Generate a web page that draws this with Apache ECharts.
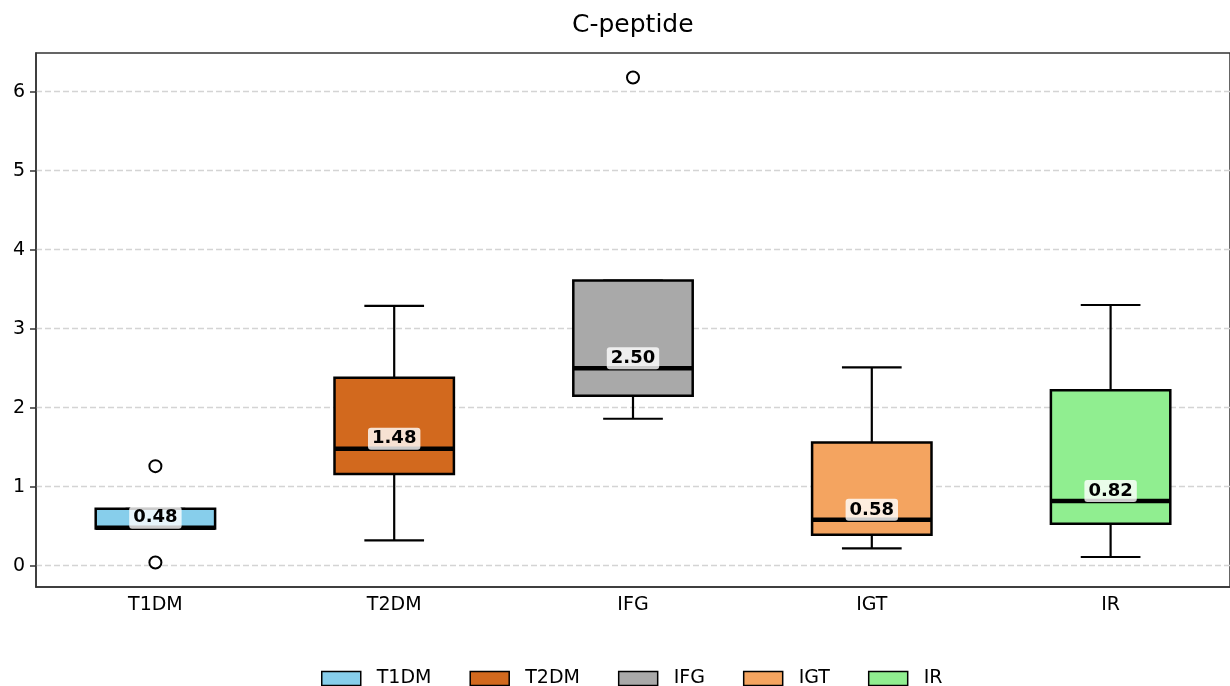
<!DOCTYPE html>
<html><head><meta charset="utf-8">
<script src="https://cdn.jsdelivr.net/npm/echarts@6/dist/echarts.min.js"></script>
<style>html,body{margin:0;padding:0;background:#fff}#c{width:1230px;height:686px}</style>
</head><body><div id="c"></div>
<script>
const categories = ['T1DM', 'T2DM', 'IFG', 'IGT', 'IR'];
const colors = ['#87CEEB', '#D2691E', '#A9A9A9', '#F4A460', '#90EE90'];
const whiskerLow = [0.47, 0.32, 1.86, 0.22, 0.11];
const q1 = [0.47, 1.16, 2.15, 0.39, 0.53];
const medians = [0.48, 1.48, 2.50, 0.58, 0.82];
const q3 = [0.72, 2.38, 3.61, 1.56, 2.22];
const whiskerHigh = [0.72, 3.29, 3.61, 2.51, 3.30];
const outlierCat = [0, 0, 2];
const outlierVal = [1.26, 0.04, 6.18];
const yTicks = [0, 1, 2, 3, 4, 5, 6];

const FONT = '"DejaVu Sans", sans-serif';

function makeRender(i) {
  return function (params, api) {
    const x = api.value(0);
    const pLow = api.coord([x, api.value(1)]);
    const pQ1 = api.coord([x, api.value(2)]);
    const pMed = api.coord([x, api.value(3)]);
    const pQ3 = api.coord([x, api.value(4)]);
    const pHigh = api.coord([x, api.value(5)]);
    const bw = api.size([1, 0])[0] * 0.5;
    const cx = pMed[0];
    const capW = bw * 0.5;
    const ls = { stroke: '#000', lineWidth: 2.2 };
    return {
      type: 'group',
      children: [
        { type: 'line', shape: { x1: cx, y1: pQ3[1], x2: cx, y2: pHigh[1] }, style: ls },
        { type: 'line', shape: { x1: cx, y1: pQ1[1], x2: cx, y2: pLow[1] }, style: ls },
        { type: 'line', shape: { x1: cx - capW / 2, y1: pHigh[1], x2: cx + capW / 2, y2: pHigh[1] }, style: ls },
        { type: 'line', shape: { x1: cx - capW / 2, y1: pLow[1], x2: cx + capW / 2, y2: pLow[1] }, style: ls },
        { type: 'rect', shape: { x: cx - bw / 2, y: pQ3[1], width: bw, height: pQ1[1] - pQ3[1] },
          style: { fill: colors[i], stroke: '#000', lineWidth: 2.5 } },
        { type: 'line', shape: { x1: cx - bw / 2, y1: pMed[1], x2: cx + bw / 2, y2: pMed[1] },
          style: { stroke: '#000', lineWidth: 4.5 } },
        { type: 'text', x: cx, y: pMed[1] - 10,
          style: { text: medians[i].toFixed(2), font: 'bold 18px ' + FONT, fill: '#000',
            align: 'center', verticalAlign: 'middle',
            backgroundColor: 'rgba(255,255,255,0.8)', padding: [3, 4, 1, 4], borderRadius: 3 } }
      ]
    };
  };
}

const series = categories.map((name, i) => ({
  name: name,
  type: 'custom',
  renderItem: makeRender(i),
  encode: { x: 0, y: [1, 2, 3, 4, 5] },
  itemStyle: { color: colors[i], borderColor: '#000', borderWidth: 1.5 },
  data: [[i, whiskerLow[i], q1[i], medians[i], q3[i], whiskerHigh[i]]],
  z: 3
}));

series.push({
  name: 'outliers',
  type: 'scatter',
  symbol: 'circle',
  symbolSize: 12,
  itemStyle: { color: '#fff', borderColor: '#000', borderWidth: 2, opacity: 1 },
  data: outlierCat.map((c, k) => [c, outlierVal[k]]),
  z: 4
});

const chart = echarts.init(document.getElementById('c'));
chart.setOption({
  animation: false,
  backgroundColor: '#fff',
  title: {
    text: 'C-peptide', left: 567, top: 8,
    textStyle: { fontFamily: FONT, fontSize: 25, fontWeight: 'normal', color: '#000' }
  },
  legend: {
    data: categories,
    top: 664, left: 316,
    icon: 'rect', itemWidth: 39, itemHeight: 14, itemGap: 38,
    itemStyle: { borderColor: '#000', borderWidth: 1.5 },
    textStyle: { fontFamily: FONT, fontSize: 19, color: '#000', padding: [0, 0, 0, 11] }
  },
  grid: {
    left: 36, right: 0, top: 53, bottom: 99,
    show: true, borderColor: '#333', borderWidth: 1.5, backgroundColor: 'transparent'
  },
  xAxis: {
    type: 'category', data: categories, boundaryGap: true,
    axisLine: { onZero: false, lineStyle: { color: '#333', width: 1.5 } },
    axisTick: { alignWithLabel: true, length: 6, lineStyle: { color: '#333', width: 1.5 } },
    axisLabel: { fontFamily: FONT, fontSize: 19, color: '#000', margin: 9 },
    splitLine: { show: false }
  },
  yAxis: {
    type: 'value', min: -0.27, max: 6.49,
    axisLine: { show: true, onZero: false, lineStyle: { color: '#333', width: 1.5 } },
    axisTick: { show: true, length: 6, customValues: yTicks, lineStyle: { color: '#333', width: 1.5 } },
    axisLabel: { fontFamily: FONT, fontSize: 19, color: '#000', margin: 11, customValues: yTicks },
    splitLine: { show: true, lineStyle: { color: '#d4d4d4', type: [6, 3], width: 1.3 } }
  },
  series: series
});
</script>
</body></html>
